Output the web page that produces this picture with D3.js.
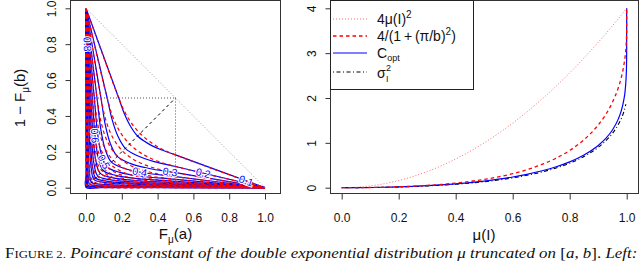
<!DOCTYPE html>
<html>
<head>
<meta charset="utf-8">
<script src="https://cdnjs.cloudflare.com/ajax/libs/d3/7.8.5/d3.min.js"></script>
<style>
body { margin: 0; background: #fff; }
svg { display: block; font-family: "Liberation Sans", Arial, sans-serif; }
</style>
</head>
<body>
<script>

// ---- left panel: contours of the Poincare constant C(a,b), x = F(a), y = 1 - F(b)
var levels = [0.1, 0.2, 0.3, 0.4, 0.5, 0.6, 0.7, 0.8, 0.9, 1.0, 1.2, 1.4, 1.6, 1.8, 2.0, 2.5];

// exact constant (blue, solid)
var blueLines = [
  [[0,1],[.1828,.5],[.2128,.4162],[.2470,.3453],[.288,.288],[.3453,.2470],[.4162,.2128],[.5,.1828],[1,0]],
  [[0,1],[.1183,.5],[.1456,.3806],[.1779,.2876],[.2196,.2196],[.2876,.1779],[.3806,.1456],[.5,.1183],[1,0]],
  [[0,1],[.0836,.5],[.1072,.3533],[.1358,.2465],[.1746,.1746],[.2465,.1358],[.3533,.1072],[.5,.0836],[1,0]],
  [[0,1],[.0616,.5],[.0818,.3306],[.1069,.2148],[.1422,.1422],[.2148,.1069],[.3306,.0818],[.5,.0616],[1,0]],
  [[0,1],[.0465,.5],[.0637,.3105],[.0853,.1883],[.1167,.1167],[.1883,.0853],[.3105,.0637],[.5,.0465],[1,0]],
  [[0,1],[.0357,.5],[.0503,.2923],[.0687,.1655],[.0961,.0961],[.1655,.0687],[.2923,.0503],[.5,.0357],[1,0]],
  [[0,1],[.0277,.5],[.0400,.2758],[.0557,.1463],[.0796,.0796],[.1463,.0557],[.2758,.0400],[.5,.0277],[1,0]],
  [[0,1],[.0216,.5],[.0321,.2602],[.0453,.1289],[.0656,.0656],[.1289,.0453],[.2602,.0321],[.5,.0216],[1,0]],
  [[0,1],[.0169,.5],[.0258,.2460],[.0369,.1141],[.0543,.0543],[.1141,.0369],[.2460,.0258],[.5,.0169],[1,0]],
  [[0,1],[.0133,.5],[.0207,.2326],[.0301,.1009],[.0449,.0449],[.1009,.0301],[.2326,.0207],[.5,.0133],[1,0]],
  [[0,1],[.0082,.5],[.0134,.2085],[.0201,.0791],[.0305,.0305],[.0791,.0201],[.2085,.0134],[.5,.0082],[1,0]],
  [[0,1],[.0050,.5],[.0086,.1856],[.0130,.0607],[.0197,.0197],[.0607,.0130],[.1856,.0086],[.5,.0050],[1,0]],
  [[0,1],[.0030,.5],[.0055,.1658],[.0085,.0470],[.0128,.0128],[.0470,.0085],[.1658,.0055],[.5,.0030],[1,0]],
  [[0,1],[.0017,.5],[.0033,.1470],[.0053,.0355],[.0078,.0078],[.0355,.0053],[.1470,.0033],[.5,.0017],[1,0]],
  [[0,1],[.0009,.5],[.0020,.1299],[.0033,.0267],[.0046,.0046],[.0267,.0033],[.1299,.0020],[.5,.0009],[1,0]],
  [[0,1],[.0002,.5],[.0005,.0800],[.0008,.0008],[.0800,.0005],[.5,.0002],[1,0]]
];

// bound 4/(1+(2pi/(b-a))^2) (red, dashed)
var redLines = [
  [[0,1],[.1828,.5],[.2162,.4228],[.2557,.3575],[.3023,.3023],[.3575,.2557],[.4228,.2162],[.5,.1828],[1,0]],
  [[0,1],[.1183,.5],[.1504,.3932],[.1913,.3092],[.2432,.2432],[.3092,.1913],[.3932,.1504],[.5,.1183],[1,0]],
  [[0,1],[.0836,.5],[.1126,.3711],[.1517,.2754],[.2044,.2044],[.2754,.1517],[.3711,.1126],[.5,.0836],[1,0]],
  [[0,1],[.0616,.5],[.0873,.3527],[.1238,.2488],[.1755,.1755],[.2488,.1238],[.3527,.0873],[.5,.0616],[1,0]],
  [[0,1],[.0465,.5],[.0691,.3366],[.1027,.2266],[.1525,.1525],[.2266,.1027],[.3366,.0691],[.5,.0465],[1,0]],
  [[0,1],[.0357,.5],[.0554,.3221],[.0861,.2074],[.1336,.1336],[.2074,.0861],[.3221,.0554],[.5,.0357],[1,0]],
  [[0,1],[.0277,.5],[.0448,.3087],[.0726,.1906],[.1176,.1176],[.1906,.0726],[.3087,.0448],[.5,.0277],[1,0]],
  [[0,1],[.0216,.5],[.0365,.2962],[.0616,.1755],[.1039,.1039],[.1755,.0616],[.2962,.0365],[.5,.0216],[1,0]],
  [[0,1],[.0169,.5],[.0298,.2844],[.0523,.1618],[.0920,.0920],[.1618,.0523],[.2844,.0298],[.5,.0169],[1,0]],
  [[0,1],[.0133,.5],[.0243,.2731],[.0445,.1492],[.0815,.0815],[.1492,.0445],[.2731,.0243],[.5,.0133],[1,0]],
  [[0,1],[.0082,.5],[.0162,.2519],[.0322,.1269],[.0639,.0639],[.1269,.0322],[.2519,.0162],[.5,.0082],[1,0]],
  [[0,1],[.0050,.5],[.0107,.2319],[.0231,.1075],[.0499,.0499],[.1075,.0231],[.2319,.0107],[.5,.0050],[1,0]],
  [[0,1],[.0030,.5],[.0070,.2126],[.0164,.0904],[.0385,.0385],[.0904,.0164],[.2126,.0070],[.5,.0030],[1,0]],
  [[0,1],[.0017,.5],[.0044,.1939],[.0113,.0752],[.0292,.0292],[.0752,.0113],[.1939,.0044],[.5,.0017],[1,0]],
  [[0,1],[.0009,.5],[.0027,.1755],[.0076,.0616],[.0216,.0216],[.0616,.0076],[.1755,.0027],[.5,.0009],[1,0]],
  [[0,1],[.0002,.5],[.0009,.1000],[.0087,.0087],[.1000,.0009],[.5,.0002],[1,0]]
];

// inline contour labels: text, position (data units), angle
var contourLabels = [
  ["0.1", 0.895, 0.038, 20],
  ["0.2", 0.655, 0.082, 13],
  ["0.3", 0.470, 0.088, 9],
  ["0.4", 0.300, 0.088, 11],
  ["0.5", 0.100, 0.145, 62],
  ["0.6", 0.050, 0.290, 86],
  ["0.8", 0.008, 0.800, 88]
];

// ---- right panel: symmetric intervals [-b,b], mu(I) = 1 - exp(-b)
var muI = [0, .05, .1, .15, .2, .25, .3, .35, .4, .45, .5, .55, .6, .65, .7, .75, .8, .85, .9, .925, .95, .97, .98, .99, .995, .999, .9999, 1];
var boundLength = [0, .00107, .0045, .0107, .0201, .0333, .0509, .0738, .1030, .1398, .1857, .2428, .3136, .4017, .5123, .652, .8316, 1.069, 1.398, 1.619, 1.905, 2.219, 2.432, 2.730, 2.959, 3.314, 3.583, 4];
var cOpt = [0, .00104, .00432, .01003, .01845, .02991, .04474, .0634, .08645, .11456, .1486, .18942, .2389, .29872, .3718, .46213, .5767, .7277, .9402, 1.0873, 1.2876, 1.523, 1.6958, 1.9619, 2.193, 2.6156, 3.0197, 4];

var muSq = [0, .05, .1, .15, .2, .25, .3, .35, .4, .45, .5, .55, .6, .65, .7, .75, .8, .85, .9, .95, 1];
var boundMass = [0, .01, .04, .09, .16, .25, .36, .49, .64, .81, 1.0, 1.21, 1.44, 1.69, 1.96, 2.25, 2.56, 2.89, 3.24, 3.61, 4.0];

var muVar = [0, .05, .1, .15, .2, .25, .3, .35, .4, .45, .5, .55, .6, .65, .7, .75, .8, .85, .9, .925, .95, .97, .98, .99, .995, .997];
var variance = [0, .00087, .0036, .00845, .01567, .02562, .03868, .05531, .07611, .10178, .13325, .17166, .21855, .27598, .34679, .4352, .54771, .6953, .8992, 1.03594, 1.2123, 1.4028, 1.528, 1.6927, 1.805, 1.864];

var xTicks = [0, 0.2, 0.4, 0.6, 0.8, 1.0];
var yTicksL = [0, 0.2, 0.4, 0.6, 0.8, 1.0];
var yTicksR = [0, 1, 2, 3, 4];

var width = 640, height = 270;

var svg = d3.select("body").append("svg")
    .attr("width", width)
    .attr("height", height);

var xL = d3.scaleLinear().domain([0, 1]).range([86, 265]);
var yL = d3.scaleLinear().domain([0, 1]).range([187.7, 8.3]);
var xR = d3.scaleLinear().domain([0, 1]).range([341.7, 626.7]);
var yR = d3.scaleLinear().domain([0, 4]).range([187.7, 8.3]);

var boxL = {x0: 70.5, x1: 280.5, y0: 0.5, y1: 193.5};
var boxR = {x0: 330.5, x1: 638.5, y0: 0.5, y1: 193.5};

var defs = svg.append("defs");
defs.append("clipPath").attr("id", "clipL").append("rect")
    .attr("x", boxL.x0).attr("y", boxL.y0).attr("width", boxL.x1 - boxL.x0).attr("height", boxL.y1 - boxL.y0);
defs.append("clipPath").attr("id", "clipR").append("rect")
    .attr("x", boxR.x0).attr("y", boxR.y0).attr("width", boxR.x1 - boxR.x0).attr("height", boxR.y1 - boxR.y0);

// ---------- left panel
var gL = svg.append("g").attr("clip-path", "url(#clipL)");

var contourLine = d3.line()
    .x(d => xL(d[0]))
    .y(d => yL(d[1]))
    .curve(d3.curveCatmullRom.alpha(0.5));

gL.selectAll("path.blue")
    .data(blueLines)
    .enter().append("path")
    .attr("class", "blue")
    .attr("d", contourLine)
    .attr("fill", "none")
    .attr("stroke", "#0000ff")
    .attr("stroke-width", 1.2);

gL.selectAll("path.red")
    .data(redLines)
    .enter().append("path")
    .attr("class", "red")
    .attr("d", contourLine)
    .attr("fill", "none")
    .attr("stroke", "#ff0000")
    .attr("stroke-width", 1.2)
    .attr("stroke-dasharray", "3.5,3");

// reference lines
var straight = d3.line().x(d => xL(d[0])).y(d => yL(d[1]));
gL.append("path").attr("d", straight([[0, 1], [1, 0]]))
    .attr("fill", "none").attr("stroke", "#999").attr("stroke-width", 1).attr("stroke-dasharray", "1,2");
gL.append("path").attr("d", straight([[0, 0.5], [0.5, 0.5], [0.5, 0]]))
    .attr("fill", "none").attr("stroke", "#555").attr("stroke-width", 1).attr("stroke-dasharray", "1,2");
gL.append("path").attr("d", straight([[0, 0], [0.5, 0.5]]))
    .attr("fill", "none").attr("stroke", "#000").attr("stroke-width", 1).attr("stroke-dasharray", "3,3");

gL.selectAll("text.clab")
    .data(contourLabels)
    .enter().append("text")
    .attr("class", "clab")
    .attr("transform", d => "translate(" + xL(d[1]) + "," + yL(d[2]) + ") rotate(" + d[3] + ")")
    .attr("text-anchor", "middle")
    .attr("dy", "0.35em")
    .attr("font-size", 10.5)
    .attr("fill", "#0000ff")
    .attr("stroke", "#fff")
    .attr("stroke-width", 2)
    .attr("paint-order", "stroke")
    .text(d => d[0]);

// ---------- right panel
var gR = svg.append("g").attr("clip-path", "url(#clipR)");

var curveR = function (xs, ys) {
  return d3.line()
    .x((d, i) => xR(xs[i]))
    .y(d => yR(d))
    .curve(d3.curveMonotoneX)(ys);
};

gR.append("path").attr("d", curveR(muSq, boundMass))
    .attr("fill", "none").attr("stroke", "#ff6b6b").attr("stroke-width", 1).attr("stroke-dasharray", "1,2");
gR.append("path").attr("d", curveR(muVar, variance))
    .attr("fill", "none").attr("stroke", "#000").attr("stroke-width", 1.1).attr("stroke-dasharray", "1,2.5,4,2.5");
gR.append("path").attr("d", curveR(muI, cOpt))
    .attr("fill", "none").attr("stroke", "#0000ff").attr("stroke-width", 1.2);
gR.append("path").attr("d", curveR(muI, boundLength))
    .attr("fill", "none").attr("stroke", "#ff0000").attr("stroke-width", 1.3).attr("stroke-dasharray", "3.5,3");

// ---------- boxes and axes
[boxL, boxR].forEach(function (b) {
  svg.append("rect")
    .attr("x", b.x0).attr("y", b.y0)
    .attr("width", b.x1 - b.x0).attr("height", b.y1 - b.y0)
    .attr("fill", "none").attr("stroke", "#333").attr("stroke-width", 1);
});

function xAxis(scale, ticks) {
  var g = svg.append("g")
      .attr("transform", "translate(0," + boxL.y1 + ")")
      .call(d3.axisBottom(scale).tickValues(ticks).tickFormat(d3.format(".1f"))
            .tickSize(6).tickPadding(14).tickSizeOuter(0));
  g.select(".domain").remove();
  g.selectAll("line").attr("stroke", "#333");
  g.selectAll("text").attr("font-size", 12).attr("fill", "#111")
      .attr("font-family", "Liberation Sans, Arial, sans-serif");
}
xAxis(xL, xTicks);
xAxis(xR, xTicks);

function yAxis(scale, ticks, x0, fmt) {
  var g = svg.append("g")
      .attr("transform", "translate(" + x0 + ",0)")
      .call(d3.axisLeft(scale).tickValues(ticks).tickFormat(fmt).tickSize(5).tickSizeOuter(0));
  g.select(".domain").remove();
  g.selectAll("line").attr("stroke", "#333");
  g.selectAll("text")
      .attr("transform", "rotate(-90)")
      .attr("x", 0).attr("y", -15).attr("dy", 0)
      .attr("text-anchor", "middle")
      .attr("font-size", 12).attr("fill", "#111")
      .attr("font-family", "Liberation Sans, Arial, sans-serif");
}
yAxis(yL, yTicksL, boxL.x0, d3.format(".1f"));
yAxis(yR, yTicksR, boxR.x0, d3.format("d"));

// axis titles
var tx = svg.append("text").attr("x", 175.5).attr("y", 239)
    .attr("text-anchor", "middle").attr("font-size", 15).attr("fill", "#111");
tx.append("tspan").text("F");
tx.append("tspan").attr("font-size", 10).attr("dy", 3.5).text("μ");
tx.append("tspan").attr("dy", -3.5).text("(a)");

var ty = svg.append("text").attr("transform", "translate(25,98) rotate(-90)")
    .attr("text-anchor", "middle").attr("font-size", 15).attr("fill", "#111");
ty.append("tspan").text("1 \u2212 F");
ty.append("tspan").attr("font-size", 10).attr("dy", 3.5).text("μ");
ty.append("tspan").attr("dy", -3.5).text("(b)");

svg.append("text").attr("x", 484).attr("y", 240)
    .attr("text-anchor", "middle").attr("font-size", 15).attr("fill", "#111")
    .text("μ(I)");

// ---------- legend
var leg = svg.append("g");
leg.append("rect").attr("x", 330.5).attr("y", 0.5).attr("width", 143).attr("height", 89)
    .attr("fill", "#fff").attr("stroke", "#222").attr("stroke-width", 1);

var legendStyles = [
  {y: 19, color: "#ff6b6b", dash: "1,2", w: 1},
  {y: 36, color: "#ff0000", dash: "3.5,3", w: 1.3},
  {y: 53, color: "#0000ff", dash: null, w: 1.2},
  {y: 72, color: "#000", dash: "1,2.5,4,2.5", w: 1.1}
];
legendStyles.forEach(function (s) {
  leg.append("line").attr("x1", 333).attr("x2", 367).attr("y1", s.y).attr("y2", s.y)
    .attr("stroke", s.color).attr("stroke-width", s.w).attr("stroke-dasharray", s.dash);
});

var t1 = leg.append("text").attr("x", 377).attr("y", 24).attr("font-size", 14).attr("fill", "#111");
t1.append("tspan").text("4μ(I)");
t1.append("tspan").attr("font-size", 10).attr("dy", -6).text("2");

var t2 = leg.append("text").attr("x", 377).attr("y", 41).attr("font-size", 14).attr("fill", "#111");
t2.append("tspan").text("4/(1\u2009+\u2009(π/b)");
t2.append("tspan").attr("font-size", 10).attr("dy", -6).text("2");
t2.append("tspan").attr("dy", 6).text(")");

var t3 = leg.append("text").attr("x", 377).attr("y", 57.5).attr("font-size", 14).attr("fill", "#111");
t3.append("tspan").text("C");
t3.append("tspan").attr("font-size", 9).attr("dy", 3).text("opt");

var t4 = leg.append("text").attr("x", 377).attr("y", 77.5).attr("font-size", 14).attr("fill", "#111");
t4.append("tspan").text("σ");
t4.append("tspan").attr("font-size", 9).attr("x", 386).attr("dy", -6.5).text("2");
t4.append("tspan").attr("font-size", 9).attr("x", 386).attr("dy", 10.5).text("I");

// ---------- caption
var cap = svg.append("text").attr("x", 0).attr("y", 0)
    .attr("font-family", "Liberation Serif, Times New Roman, serif")
    .attr("font-size", 14).attr("fill", "#111");
cap.append("tspan").text("F");
cap.append("tspan").attr("font-size", 10.5).text("IGURE 2.");
cap.append("tspan").attr("font-style", "italic").text("  Poincaré constant of the double exponential distribution μ truncated on ");
cap.append("tspan").text("[");
cap.append("tspan").attr("font-style", "italic").text("a");
cap.append("tspan").text(", ");
cap.append("tspan").attr("font-style", "italic").text("b");
cap.append("tspan").text("].");
cap.append("tspan").attr("font-style", "italic").text("  Left:");

var capW = cap.node().getComputedTextLength();
cap.attr("transform", "translate(5,258) scale(" + (633 / capW) + ",1)");

</script>
</body>
</html>
